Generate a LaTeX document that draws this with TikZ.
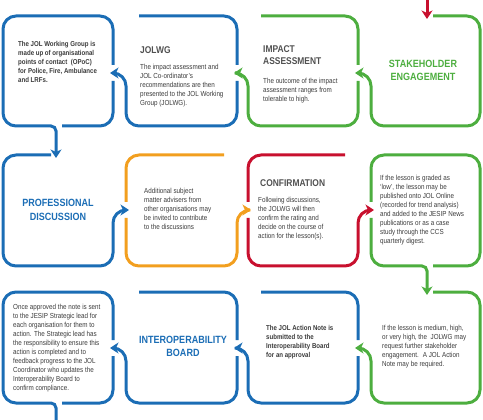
\documentclass[tikz,border=0pt]{standalone}
\usepackage{fontspec}
\setmainfont{Liberation Sans}[FakeStretch=0.86]
\usepackage{tikz}
\usetikzlibrary{arrows.meta}
\definecolor{jblue}{HTML}{1B6DB5}
\definecolor{jgreen}{HTML}{4DAE3F}
\definecolor{jorange}{HTML}{F29F1F}
\definecolor{jred}{HTML}{C8102E}
\definecolor{jgrey}{HTML}{3A3A3A}
\definecolor{jhead}{HTML}{505050}

\begin{document}
\begin{tikzpicture}[x=1pt,y=-1pt]
  \tikzset{
    edge/.style={line width=3pt, rounded corners=13pt},
    feed/.style={edge, -{Stealth[length=8.5pt,width=11pt,inset=2.5pt]}},
    body/.style={anchor=north west, inner sep=0pt, align=left, text=jgrey, font=\fontsize{7.3}{9}\selectfont},
    bodyb/.style={body, font=\fontsize{7.1}{9}\selectfont\bfseries},
    head/.style={anchor=north west, inner sep=0pt, align=left, text=jhead, font=\fontsize{9.8}{12}\selectfont\bfseries},
    stage/.style={inner sep=0pt, align=center, font=\fontsize{10.5}{13.5}\selectfont\bfseries}
  }
  \useasboundingbox (0,0) rectangle (483,420);

  % column edges
  \def\lA{3}   \def\rA{113}
  \def\lB{126} \def\rB{237}
  \def\lC{248} \def\rC{358}
  \def\lD{371} \def\rD{480}
  % row edges and arrow heights
  \def\tI{16}   \def\bI{126}   \def\mI{73}
  \def\tII{155} \def\bII{266}  \def\mII{210}
  \def\tIII{292}\def\bIII{403} \def\mIII{348}

  % Row 1 (right to left)
  \draw[feed, jred] (427,-3) -- (427,19);
  \draw[feed, jgreen] (433,\tI) -- (\rD,\tI) -- (\rD,\bI) -- (\lD,\bI) -- (\lD,\mI) [rounded corners=6pt] -- (\rC-3,\mI);
  \draw[edge, jgreen] (\lC+13,\tI) -- (\rC,\tI) -- (\rC,\mI-8);
  \draw[feed, jgreen] (\rC,\mI+8) -- (\rC,\bI) -- (\lC,\bI) -- (\lC,\mI) [rounded corners=6pt] -- (\rB-3,\mI);
  \draw[edge, jblue] (\lB+13,\tI) -- (\rB,\tI) -- (\rB,\mI-8);
  \draw[feed, jblue] (\rB,\mI+8) -- (\rB,\bI) -- (\lB,\bI) -- (\lB,\mI) [rounded corners=6pt] -- (\rA-3,\mI);
  \draw[feed, jblue] (\rA,\mI-8) -- (\rA,\tI) -- (\lA,\tI) -- (\lA,\bI) [rounded corners=5pt] -- (56,\bI) -- (56,\tII+3);
  \draw[edge, jblue] (\rA,\mI+8) -- (\rA,\bI) -- (62,\bI);

  % Row 2 (left to right)
  \draw[feed, jblue] (51,\tII) -- (\lA,\tII) -- (\lA,\bII) -- (\rA,\bII) -- (\rA,\mII) [rounded corners=6pt] -- (\lB+3,\mII);
  \draw[edge, jorange] (\rB-13,\tII) -- (\lB,\tII) -- (\lB,\mII-8);
  \draw[feed, jorange] (\lB,\mII+8) -- (\lB,\bII) -- (\rB,\bII) -- (\rB,\mII) [rounded corners=6pt] -- (\lC+3,\mII);
  \draw[edge, jred] (\rC-13,\tII) -- (\lC,\tII) -- (\lC,\mII-8);
  \draw[feed, jred] (\lC,\mII+8) -- (\lC,\bII) -- (\rC,\bII) -- (\rC,\mII) [rounded corners=6pt] -- (\lD+3,\mII);
  \draw[edge, jgreen] (\lD,\mII-8) -- (\lD,\tII) -- (\rD,\tII) -- (\rD,\bII) -- (433,\bII);
  \draw[feed, jgreen] (\lD,\mII+8) -- (\lD,\bII) [rounded corners=5pt] -- (427,\bII) -- (427,\tIII+3);

  % Row 3 (right to left)
  \draw[feed, jgreen] (433,\tIII) -- (\rD,\tIII) -- (\rD,\bIII) -- (\lD,\bIII) -- (\lD,\mIII) [rounded corners=6pt] -- (\rC-3,\mIII);
  \draw[edge, jblue] (\lC+13,\tIII) -- (\rC,\tIII) -- (\rC,\mIII-8);
  \draw[feed, jblue] (\rC,\mIII+8) -- (\rC,\bIII) -- (\lC,\bIII) -- (\lC,\mIII) [rounded corners=6pt] -- (\rB-3,\mIII);
  \draw[edge, jblue] (\lB+13,\tIII) -- (\rB,\tIII) -- (\rB,\mIII-8);
  \draw[feed, jblue] (\rB,\mIII+8) -- (\rB,\bIII) -- (\lB,\bIII) -- (\lB,\mIII) [rounded corners=6pt] -- (\rA-3,\mIII);
  \draw[edge, jblue] (\rA,\mIII-8) -- (\rA,\tIII) -- (\lA,\tIII) -- (\lA,\bIII) [rounded corners=5pt] -- (56,\bIII) -- (56,425);
  \draw[edge, jblue] (\rA,\mIII+8) -- (\rA,\bIII) -- (62,\bIII);

  % Texts, row 1
  \node[bodyb] (wgtext) at (18,41) {The JOL Working Group is\\made up of organisational\\points of contact~ (OPoC)\\for Police, Fire, Ambulance\\and LRFs.};
  \node[head] (wghead) at (140,46) {JOLWG};
  \node[body] (wgbody) at (140,64) {The impact assessment and\\JOL Co-ordinator’s\\recommendations are then\\presented to the JOL Working\\Group (JOLWG).};
  \node[head] (iahead) at (263,45) {IMPACT\\ASSESSMENT};
  \node[body] (iabody) at (263,78) {The outcome of the impact\\assessment ranges from\\tolerable to high.};
  \node[stage, text=jgreen] (setitle) at (423,70.5) {STAKEHOLDER\\ENGAGEMENT};

  % Texts, row 2
  \node[stage, text=jblue] (pdtitle) at (58,210) {PROFESSIONAL\\DISCUSSION};
  \node[body] (smebody) at (144,188) {Additional subject\\matter advisers from\\other organisations may\\be invited to contribute\\to the discussions};
  \node[head] (cfhead) at (260,179) {CONFIRMATION};
  \node[body] (cfbody) at (258,197) {Following discussions,\\the JOLWG will then\\confirm the rating and\\decide on the course of\\action for the lesson(s).};
  \node[body] (lowbody) at (380,175) {If the lesson is graded as\\‘low’, the lesson may be\\published onto JOL Online\\(recorded for trend analysis)\\and added to the JESIP News\\publications or as a case\\study through the CCS\\quarterly digest.};

  % Texts, row 3
  \node[body] (okbody) at (13,304) {Once approved the note is sent\\to the JESIP Strategic lead for\\each organisation for them to\\action. The Strategic lead has\\the responsibility to ensure this\\action is completed and to\\feedback progress to the JOL\\Coordinator who updates the\\Interoperability Board to\\confirm compliance.};
  \node[stage, text=jblue] (ibtitle) at (183,346.5) {INTEROPERABILITY\\BOARD};
  \node[bodyb] (antext) at (266,325) {The JOL Action Note is\\submitted to the\\Interoperability Board\\for an approval};
  \node[body] (medbody) at (382,325) {If the lesson is medium, high,\\or very high, the~ JOLWG may\\request further stakeholder\\engagement.~ A JOL Action\\Note may be required.};
\end{tikzpicture}
\end{document}
